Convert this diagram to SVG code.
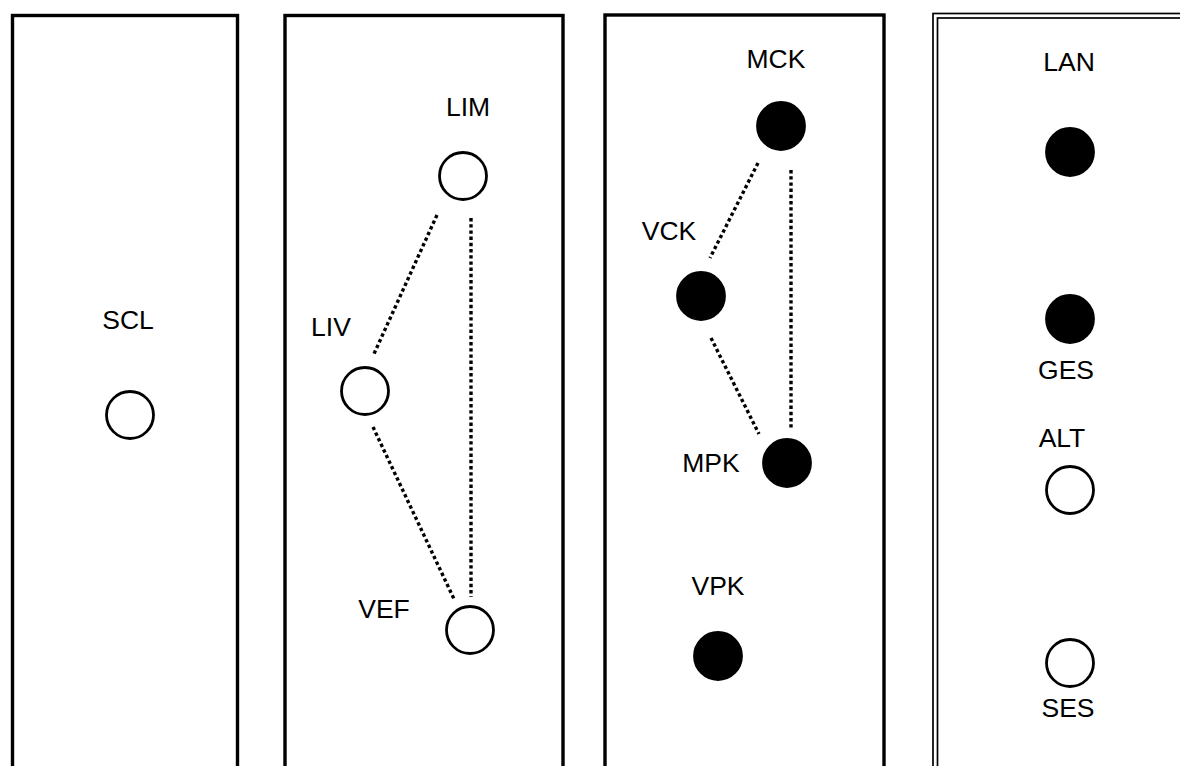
<svg xmlns="http://www.w3.org/2000/svg" width="1180" height="766" viewBox="0 0 1180 766">
  <style>
    .panel { fill: none; stroke: #000; stroke-width: 3.4; }
    .panel-thin { fill: none; stroke: #000; stroke-width: 1.7; }
    .open { fill: #fff; stroke: #000; stroke-width: 2.8; }
    .solid { fill: #000; stroke: #000; stroke-width: 2.8; }
    .label { font-family: "Liberation Sans", Arial, sans-serif; font-size: 26.5px; fill: #000; text-anchor: middle; }
    .link { stroke: #000; stroke-width: 3.4; stroke-dasharray: 3.4 2.8; fill: none; }
  </style>
  <rect width="1180" height="766" fill="#fff"/>

  <!-- panels -->
  <g id="panels">
    <rect class="panel" x="12.5" y="15.5" width="225" height="800"/>
    <rect class="panel" x="285" y="15.5" width="278" height="800"/>
    <rect class="panel" x="605" y="15" width="279" height="800"/>
    <rect class="panel-thin" x="933" y="13.5" width="300" height="800"/>
    <rect class="panel-thin" x="937.5" y="18" width="300" height="800"/>
  </g>

  <!-- connectors -->
  <g id="connectors">
    <line class="link" x1="437" y1="215" x2="373" y2="356"/>
    <line class="link" x1="471" y1="218" x2="471" y2="597"/>
    <line class="link" x1="373" y1="427" x2="454" y2="599"/>
    <line class="link" x1="758" y1="163" x2="710" y2="258"/>
    <line class="link" x1="791" y1="170" x2="791" y2="428"/>
    <line class="link" x1="711" y1="338" x2="759" y2="434"/>
  </g>

  <g id="SCL"><circle class="open" cx="130" cy="415" r="23.5"/><text class="label" x="128" y="329">SCL</text></g>
  <g id="LIM"><circle class="open" cx="463" cy="176" r="23.5"/><text class="label" x="468" y="116">LIM</text></g>
  <g id="LIV"><circle class="open" cx="365" cy="391" r="23.5"/><text class="label" x="331" y="336">LIV</text></g>
  <g id="VEF"><circle class="open" cx="470" cy="630" r="23.5"/><text class="label" x="384" y="618">VEF</text></g>
  <g id="MCK"><circle class="solid" cx="781" cy="126" r="23.5"/><text class="label" x="776" y="68">MCK</text></g>
  <g id="VCK"><circle class="solid" cx="701" cy="296" r="23.5"/><text class="label" x="669" y="240">VCK</text></g>
  <g id="MPK"><circle class="solid" cx="787" cy="463" r="23.5"/><text class="label" x="711" y="472">MPK</text></g>
  <g id="VPK"><circle class="solid" cx="718" cy="656" r="23.5"/><text class="label" x="718" y="595">VPK</text></g>
  <g id="LAN"><circle class="solid" cx="1070" cy="152" r="23.5"/><text class="label" x="1069" y="71">LAN</text></g>
  <g id="GES"><circle class="solid" cx="1070" cy="319" r="23.5"/><text class="label" x="1066" y="379">GES</text></g>
  <g id="ALT"><circle class="open" cx="1070" cy="490" r="23.5"/><text class="label" x="1062" y="447">ALT</text></g>
  <g id="SES"><circle class="open" cx="1070" cy="663" r="23.5"/><text class="label" x="1068" y="717">SES</text></g>
</svg>
